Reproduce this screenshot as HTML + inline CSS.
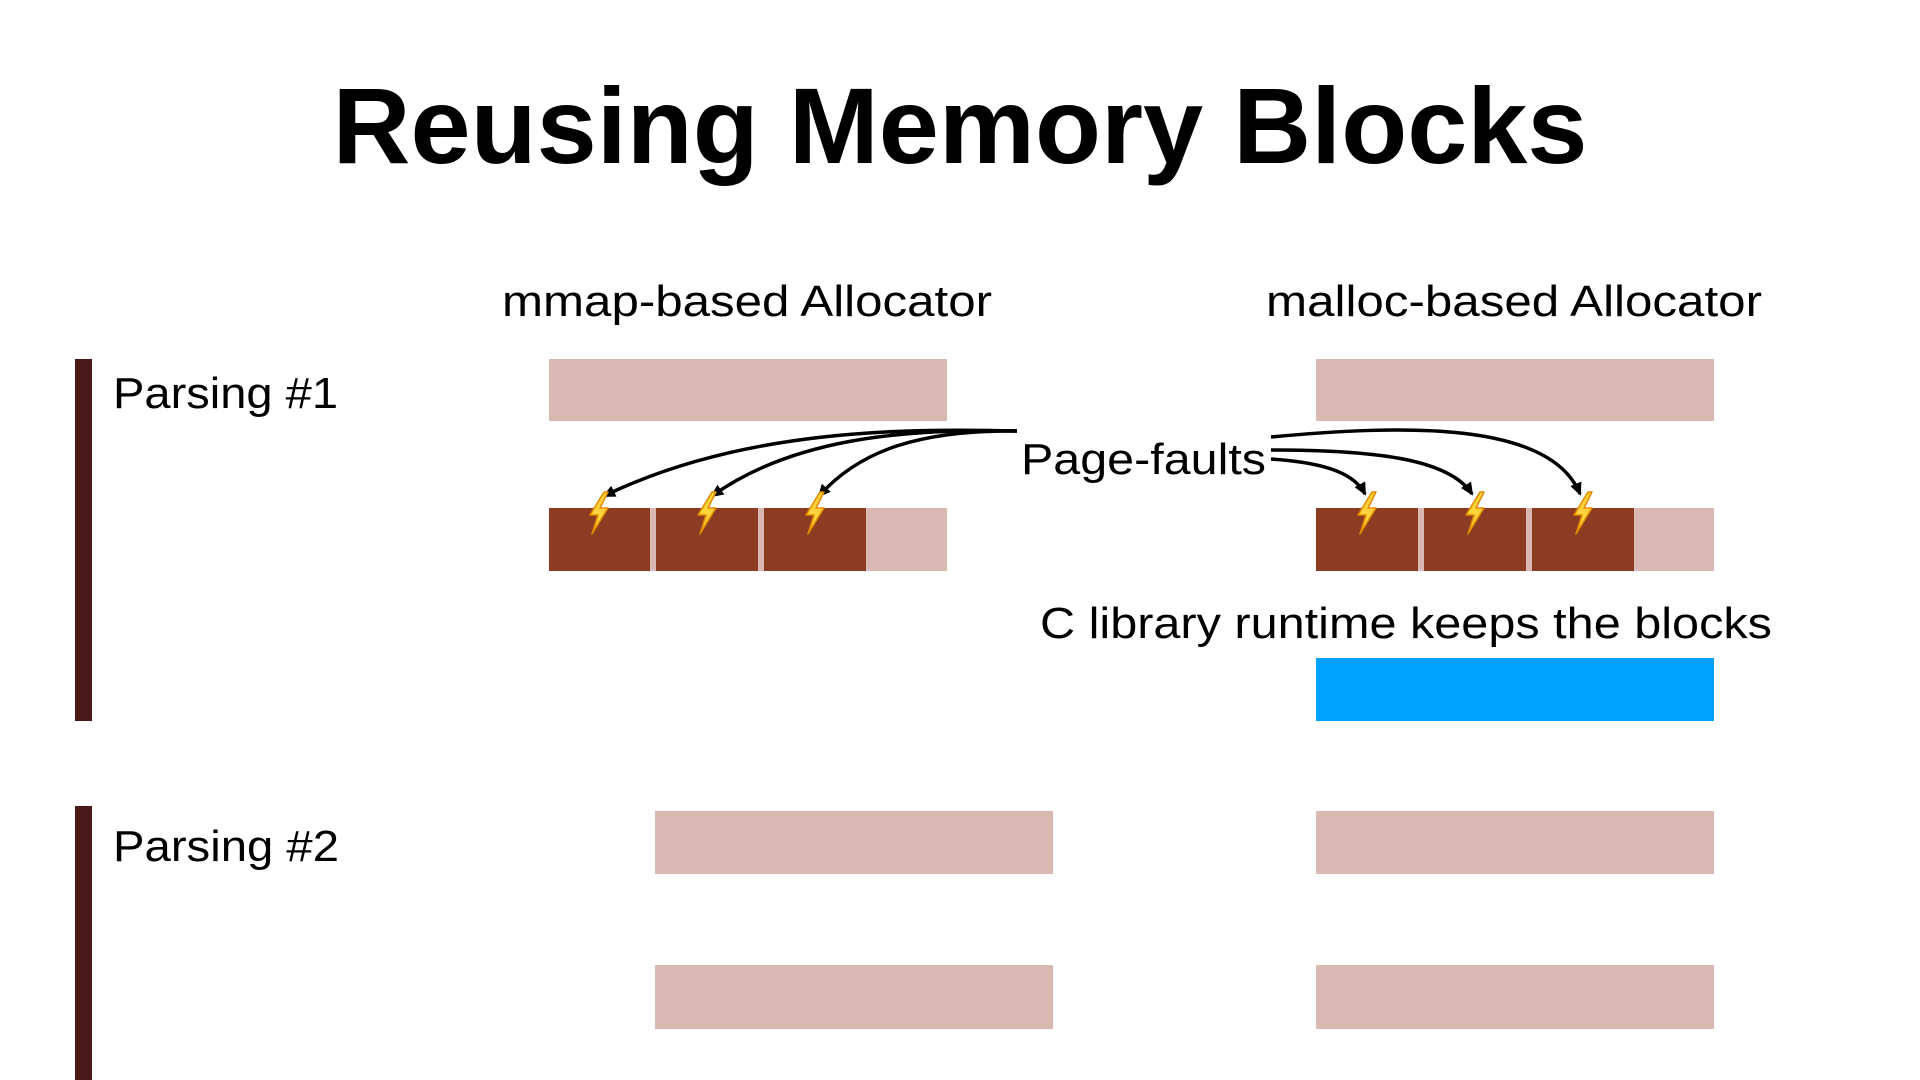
<!DOCTYPE html>
<html><head><meta charset="utf-8"><style>html,body{margin:0;padding:0;background:#fff;}svg{display:block}</style></head>
<body>
<svg width="1920" height="1080" viewBox="0 0 1920 1080" xmlns="http://www.w3.org/2000/svg" font-family="Liberation Sans, Helvetica, Arial, sans-serif">
<defs>
<marker id="ah" markerWidth="14" markerHeight="14" refX="11" refY="6" orient="auto" markerUnits="userSpaceOnUse">
<path d="M0,0 L13,6 L0,12 Z" fill="#000"/>
</marker>
<g id="bolt">
<polygon points="6,-20 -8,3 0,3 -6,22 10,-4 2,-4 10,-20" fill="#ffd43b" stroke="#e08a00" stroke-width="1.5" stroke-linejoin="round"/>
</g>
</defs>
<text x="960" y="163" font-size="108" font-weight="bold" text-anchor="middle" textLength="1255" lengthAdjust="spacingAndGlyphs">Reusing Memory Blocks</text>

<rect x="75" y="359" width="17" height="362" fill="#4a1a1a"/>
<rect x="75" y="806" width="17" height="274" fill="#4a1a1a"/>
<text x="113" y="408" font-size="44" textLength="225" lengthAdjust="spacingAndGlyphs">Parsing #1</text>
<text x="113" y="861" font-size="44" textLength="226" lengthAdjust="spacingAndGlyphs">Parsing #2</text>

<text x="502" y="316" font-size="44" textLength="490" lengthAdjust="spacingAndGlyphs">mmap-based Allocator</text>
<text x="1266" y="316" font-size="44" textLength="496" lengthAdjust="spacingAndGlyphs">malloc-based Allocator</text>

<rect x="549" y="359" width="398" height="62" fill="#dab8b3"/>
<rect x="1316" y="359" width="398" height="62" fill="#dab8b3"/>

<rect x="549" y="508" width="398" height="63" fill="#dab8b3"/>
<rect x="549" y="508" width="101" height="63" fill="#8b3c22"/>
<rect x="656" y="508" width="102" height="63" fill="#8b3c22"/>
<rect x="764" y="508" width="102" height="63" fill="#8b3c22"/>

<rect x="1316" y="508" width="398" height="63" fill="#dab8b3"/>
<rect x="1316" y="508" width="102" height="63" fill="#8b3c22"/>
<rect x="1424" y="508" width="102" height="63" fill="#8b3c22"/>
<rect x="1532" y="508" width="102" height="63" fill="#8b3c22"/>

<text x="1021" y="474" font-size="44" textLength="245" lengthAdjust="spacingAndGlyphs">Page-faults</text>
<text x="1040" y="638" font-size="44" textLength="732" lengthAdjust="spacingAndGlyphs">C library runtime keeps the blocks</text>

<rect x="1316" y="658" width="398" height="63" fill="#00a2ff"/>

<rect x="655" y="811" width="398" height="63" fill="#dab8b3"/>
<rect x="655" y="965" width="398" height="64" fill="#dab8b3"/>
<rect x="1316" y="811" width="398" height="63" fill="#dab8b3"/>
<rect x="1316" y="965" width="398" height="64" fill="#dab8b3"/>

<g fill="none" stroke="#000" stroke-width="3.5" marker-end="url(#ah)">
<path d="M1017,431 C900,428 740,430 604,496"/>
<path d="M1017,431 C900,428 790,440 712,496"/>
<path d="M1017,431 C920,430 860,450 819,496"/>
<path d="M1271,437 C1400,425 1550,420 1580,494"/>
<path d="M1271,450 C1380,450 1450,460 1472,494"/>
<path d="M1271,459 C1330,463 1355,475 1365,494"/>
</g>

<use href="#bolt" x="598" y="512"/>
<use href="#bolt" x="706" y="512"/>
<use href="#bolt" x="814" y="512"/>
<use href="#bolt" x="1366" y="512"/>
<use href="#bolt" x="1474" y="512"/>
<use href="#bolt" x="1582" y="512"/>
</svg>
</body></html>
